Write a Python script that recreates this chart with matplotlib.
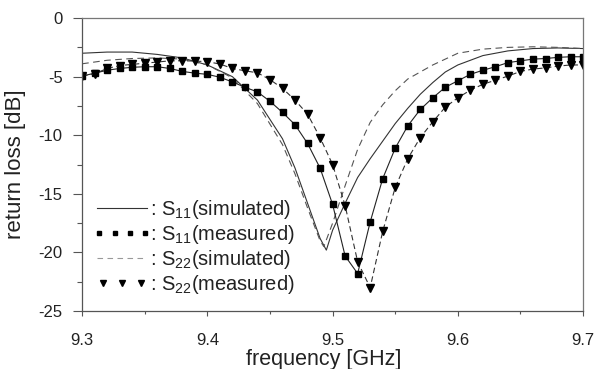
import matplotlib
matplotlib.use("Agg")
import matplotlib.pyplot as plt
from matplotlib.lines import Line2D
from matplotlib.legend_handler import HandlerLine2D

plt.rcParams['font.family'] = ['Liberation Sans', 'DejaVu Sans']
plt.rcParams['mathtext.default'] = 'regular'

# ---- data ----
meas_freq = [9.30, 9.31, 9.32, 9.33, 9.34, 9.35, 9.36, 9.37, 9.38, 9.39,
             9.40, 9.41, 9.42, 9.43, 9.44, 9.45, 9.46, 9.47, 9.48, 9.49,
             9.50, 9.51, 9.52, 9.53, 9.54, 9.55, 9.56, 9.57, 9.58, 9.59,
             9.60, 9.61, 9.62, 9.63, 9.64, 9.65, 9.66, 9.67, 9.68, 9.69, 9.70]
s11_meas = [-4.95, -4.7, -4.45, -4.3, -4.2, -4.15, -4.15, -4.3, -4.55, -4.7,
            -4.8, -5.05, -5.45, -5.9, -6.3, -7.1, -8.05, -9.1, -10.7, -12.8,
            -15.9, -20.3, -21.8, -17.4, -13.7, -11.1, -9.2, -7.8, -6.8, -5.9,
            -5.35, -4.8, -4.45, -4.15, -3.8, -3.65, -3.5, -3.45, -3.35, -3.3, -3.3]
s22_meas = [-4.95, -4.75, -4.3, -4.05, -3.95, -3.85, -3.75, -3.65, -3.64, -3.67,
            -3.72, -3.92, -4.3, -4.5, -4.67, -5.25, -6.0, -7.0, -8.2, -10.2,
            -12.5, -16.0, -20.8, -23.0, -18.2, -14.45, -12.0, -10.2, -8.85, -7.6,
            -6.8, -6.15, -5.65, -5.3, -4.95, -4.55, -4.35, -4.25, -4.1, -4.0, -4.0]

sim11_freq = [9.30, 9.32, 9.34, 9.36, 9.38, 9.40, 9.42, 9.44, 9.46, 9.47,
              9.48, 9.49, 9.495, 9.50, 9.51, 9.52, 9.53, 9.54, 9.55, 9.56,
              9.57, 9.58, 9.59, 9.60, 9.62, 9.64, 9.66, 9.68, 9.70]
s11_sim = [-3.0, -2.9, -2.9, -3.1, -3.4, -4.0, -5.0, -7.0, -10.3, -12.8,
           -15.8, -18.8, -19.8, -18.1, -15.8, -13.6, -12.0, -10.5, -9.0, -7.7,
           -6.5, -5.5, -4.6, -4.0, -3.2, -2.8, -2.6, -2.55, -2.6]

sim22_freq = [9.30, 9.32, 9.34, 9.36, 9.38, 9.40, 9.42, 9.44, 9.46, 9.47,
              9.48, 9.49, 9.493, 9.50, 9.51, 9.52, 9.53, 9.54, 9.55, 9.56,
              9.58, 9.60, 9.62, 9.64, 9.66, 9.68, 9.70]
s22_sim = [-3.9, -3.6, -3.45, -3.4, -3.5, -4.0, -5.1, -7.3, -10.8, -13.3,
           -16.2, -19.0, -19.5, -17.5, -14.3, -11.2, -8.9, -7.4, -6.2, -5.2,
           -4.0, -3.0, -2.65, -2.5, -2.45, -2.5, -2.6]

x_ticks = [9.3, 9.4, 9.5, 9.6, 9.7]
y_ticks = [0, -5, -10, -15, -20, -25]
labels = [': S$_{11}$(simulated)', ': S$_{11}$(measured)',
          ': S$_{22}$(simulated)', ': S$_{22}$(measured)']

# ---- figure ----
fig = plt.figure(figsize=(5.95, 3.69), dpi=100)
ax = fig.add_axes([0.138, 0.157, 0.842, 0.794])

ax.plot(sim11_freq, s11_sim, color='#333333', lw=0.8, ls='-')
ax.plot(sim22_freq, s22_sim, color='#555555', lw=0.8, ls=(0, (6, 4)))
ax.plot(meas_freq, s11_meas, color='#222222', lw=0.8, ls='-',
        marker='s', ms=4.0, mfc='black', mec='black')
ax.plot(meas_freq, s22_meas, color='#333333', lw=0.8, ls=(0, (5, 3)),
        marker='v', ms=5.3, mfc='black', mec='black')

ax.set_xlim(9.3, 9.7)
ax.set_ylim(-25, 0)
ax.set_xticks(x_ticks)
ax.set_xticklabels([f'{v:.1f}' for v in x_ticks])
ax.set_yticks(y_ticks)
ax.set_yticklabels([str(v) for v in y_ticks])
ax.set_xticks([9.35, 9.45, 9.55, 9.65], minor=True)
ax.set_yticks([-2.5, -7.5, -12.5, -17.5, -22.5], minor=True)
ax.tick_params(which='both', width=0.8, color='#555555',
               labelsize=12, labelcolor='#222222')
ax.tick_params(axis='x', which='major', length=3.6, pad=12)
ax.tick_params(axis='x', which='minor', length=2.2)
ax.tick_params(axis='y', which='major', length=6.5, pad=7.5)
ax.tick_params(axis='y', which='minor', length=3.6)
for s in ax.spines.values():
    s.set_color('#777777')
    s.set_linewidth(0.9)
ax.spines['left'].set_color('#555555')
ax.spines['bottom'].set_color('#555555')

ax.set_xlabel('frequency [GHz]', fontsize=15.5, color='#222222')
ax.xaxis.set_label_coords(0.483, -0.128)
ax.set_ylabel('return loss [dB]', fontsize=16, color='#222222')
ax.yaxis.set_label_coords(-0.112, 0.5)

h1 = Line2D([], [], color='#333333', lw=0.8)
h2 = Line2D([], [], ls='none', marker='s', ms=3.5, color='black')
h3 = Line2D([], [], color='#999999', lw=0.8, ls=(0, (5, 4)))
h4 = Line2D([], [], ls='none', marker='v', ms=4.5, color='black')
leg = ax.legend([h1, h2, h3, h4], labels, loc='upper left',
                bbox_to_anchor=(0.030, 0.386), frameon=False, fontsize=14.5,
                handlelength=2.5, handletextpad=0.1, labelspacing=0.1,
                borderaxespad=0, borderpad=0,
                handler_map={h2: HandlerLine2D(numpoints=4, marker_pad=0.1),
                             h4: HandlerLine2D(numpoints=3, marker_pad=0.3)})
for t in leg.get_texts():
    t.set_color('#222222')

fig.savefig('out.png', dpi=100)
